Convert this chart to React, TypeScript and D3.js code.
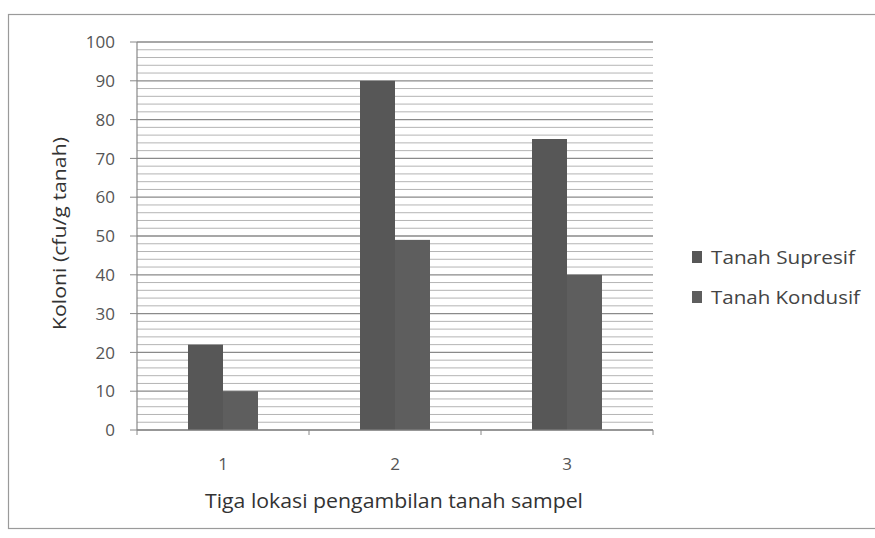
import React from "react";
import * as d3 from "d3";

const categories = ["1", "2", "3"];
const seriesNames = ["Tanah Supresif", "Tanah Kondusif"];
const supresif = [22, 90, 75];
const kondusif = [10, 49, 40];
const yTicks = [0, 10, 20, 30, 40, 50, 60, 70, 80, 90, 100];

const W = 875, H = 538;
const M = { left: 137, right: 653, top: 42, bottom: 430 };

export default function App() {
  const x = d3.scaleBand<string>().domain(categories).range([M.left, M.right]);
  const y = d3.scaleLinear().domain([0, 100]).range([M.bottom, M.top]);
  const minor = d3.range(0, 101, 2);
  const barW = 35;
  const series = [supresif, kondusif];
  const colors = ["#575757", "#5e5e5e"];
  const font = "'Open Sans', 'DejaVu Sans', sans-serif";
  return (
    <svg width={W} height={H} style={{ position: "absolute", left: 0, top: 0, background: "#fff" }}>
      <rect x={8.5} y={14.5} width={W + 10} height={514} fill="#fff" stroke="#9a9a9a" strokeWidth={1.2} />
      {minor.map((v) => (
        <line key={"m" + v} x1={M.left} x2={M.right} y1={y(v)} y2={y(v)}
          stroke={v % 10 === 0 ? "#8a8a8a" : "#b4b4b4"} strokeWidth={v % 10 === 0 ? 1.3 : 1} />
      ))}
      {categories.map((c, i) =>
        series.map((s, j) => (
          <rect key={c + j} x={x(c)! + x.bandwidth() / 2 - barW + j * barW} y={y(s[i])}
            width={barW} height={y(0) - y(s[i])} fill={colors[j]} />
        ))
      )}
      <line x1={M.left} x2={M.left} y1={M.top} y2={M.bottom} stroke="#888" strokeWidth={1.2} />
      <line x1={M.left} x2={M.right} y1={M.bottom} y2={M.bottom} stroke="#888" strokeWidth={1.2} />
      {yTicks.map((t) => (
        <g key={t}>
          <line x1={M.left - 7} x2={M.left} y1={y(t)} y2={y(t)} stroke="#888" />
          <text x={M.left - 22} y={y(t)} dy="0.36em" textAnchor="end" fontSize={17}
            fontFamily={font} fill="#555">{t}</text>
        </g>
      ))}
      {[...categories.map((c) => x(c)!), M.right].map((v, i) => (
        <line key={"xt" + i} x1={v} x2={v} y1={M.bottom} y2={M.bottom + 5} stroke="#888" />
      ))}
      {categories.map((c) => (
        <text key={"xl" + c} x={x(c)! + x.bandwidth() / 2} y={464} dy="0.36em" textAnchor="middle" fontSize={17}
          fontFamily={font} fill="#555">{c}</text>
      ))}
      <text x={205} y={508} fontSize={20} textLength={378} lengthAdjust="spacingAndGlyphs"
        fontFamily={font} fill="#333">Tiga lokasi pengambilan tanah sampel</text>
      <text transform={`translate(66,330) rotate(-90)`} fontSize={18} textLength={193}
        lengthAdjust="spacingAndGlyphs" fontFamily={font} fill="#333">Koloni (cfu/g tanah)</text>
      {seriesNames.map((n, j) => (
        <g key={n}>
          <rect x={692} y={251 + j * 40} width={10} height={12} fill={colors[j]} />
          <text x={711} y={257 + j * 40} dy="0.36em" fontSize={19} fontFamily={font} fill="#444"
            textLength={j === 0 ? 144 : 149} lengthAdjust="spacingAndGlyphs">{n}</text>
        </g>
      ))}
    </svg>
  );
}
